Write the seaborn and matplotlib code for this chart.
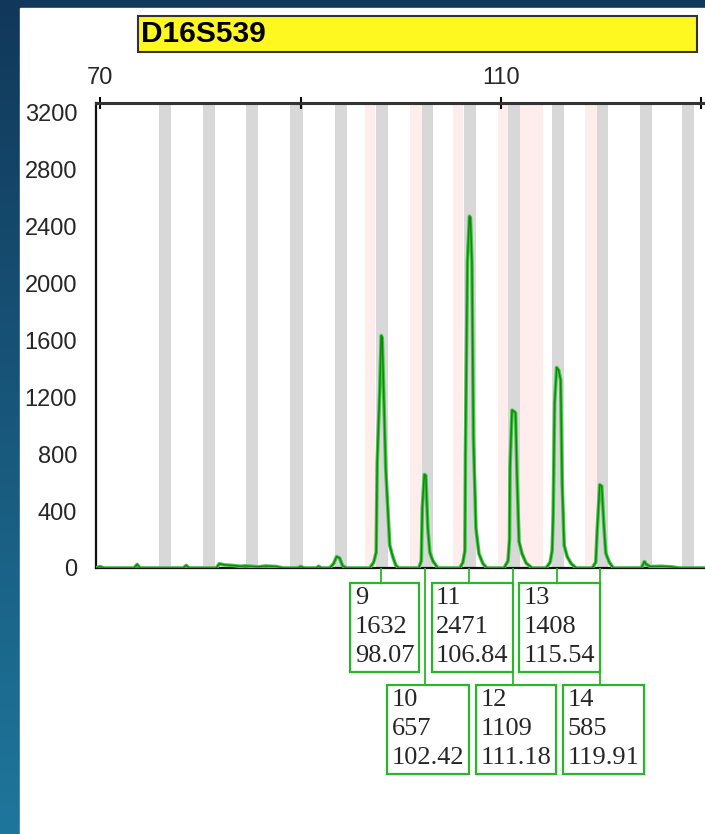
import numpy as np
import pandas as pd
import matplotlib
matplotlib.use("Agg")
import matplotlib.pyplot as plt
from matplotlib.patches import Rectangle
from matplotlib.colors import LinearSegmentedColormap
import seaborn as sns

marker_name = "D16S539"

# called alleles
allele_names = ["9", "10", "11", "12", "13", "14"]
allele_heights = [1632, 657, 2471, 1109, 1408, 585]
allele_sizes = [98.07, 102.42, 106.84, 111.18, 115.54, 119.91]

# ladder bins (grey) and virtual bins (pink), in bp
bin_centres = [76.5, 80.85, 85.2, 89.6, 94.0, 98.1, 102.6, 106.9, 111.3, 115.7, 120.1, 124.5, 128.7]
pink_start = [96.4, 100.9, 105.2, 109.7, 111.9, 118.4]
pink_end = [97.4, 102.1, 106.2, 110.7, 114.2, 119.6]

# electropherogram trace
trace_bp = [69.6, 70.0, 70.4, 73.4, 73.7, 74.0, 78.3, 78.6, 78.9, 81.6, 81.9, 82.4, 83.2, 84.0,
            84.5, 85.8, 86.5, 87.6, 88.3, 89.7, 90.0, 90.4, 91.6, 91.8, 92.1, 92.9, 93.3, 93.6,
            93.9, 94.2, 94.6,
            96.9, 97.3, 97.55, 97.65, 97.9, 98.05, 98.15, 98.3, 98.5, 98.7, 98.9, 99.2, 99.5, 99.8,
            101.8, 102.05, 102.15, 102.35, 102.5, 102.7, 102.9, 103.2, 103.7,
            105.9, 106.2, 106.4, 106.45, 106.65, 106.85, 106.95, 107.1, 107.25, 107.5, 107.8, 108.2, 108.6,
            110.3, 110.7, 110.85, 110.9, 111.1, 111.3, 111.45, 111.6, 111.8, 112.1, 112.5, 113.1,
            114.5, 114.9, 115.1, 115.2, 115.35, 115.55, 115.75, 115.95, 116.1, 116.3, 116.6, 117.0, 117.5,
            119.1, 119.45, 119.6, 119.85, 120.05, 120.25, 120.45, 120.8, 121.2,
            124.0, 124.3, 124.5, 124.9, 126.0, 127.0, 127.8, 130.35]
trace_rfu = [0, 10, 0, 0, 25, 0, 0, 18, 0, 0, 30, 22, 18, 12,
             15, 8, 14, 10, 0, 0, 10, 0, 0, 12, 0, 0, 30, 80,
             70, 15, 0,
             0, 40, 110, 745, 1240, 1632, 1620, 1230, 700, 430, 160, 80, 20, 0,
             0, 50, 420, 657, 650, 280, 110, 50, 0,
             0, 40, 120, 795, 2150, 2471, 2460, 2150, 915, 280, 100, 30, 0,
             0, 50, 200, 710, 1109, 1100, 1090, 640, 185, 100, 35, 0,
             0, 40, 120, 360, 1160, 1408, 1390, 1320, 600, 160, 80, 30, 0,
             0, 40, 270, 585, 575, 315, 105, 40, 0,
             0, 45, 25, 10, 12, 8, 0, 0]

y_ticks = [0, 400, 800, 1200, 1600, 2000, 2400, 2800, 3200]
x_ticks = [70, 90, 110, 130]
x_tick_labels = ["70", "", "110", ""]

sns.set_style("white")
plt.rcParams["font.family"] = ["Liberation Sans", "DejaVu Sans"]

W, H = 705, 834
fig = plt.figure(figsize=(W / 100, H / 100), dpi=100)

# blue background and white panel
bg = fig.add_axes([0, 0, 1, 1])
grad = np.linspace(0, 1, 256).reshape(-1, 1)
cmap = LinearSegmentedColormap.from_list("bg", ["#11385a", "#1f769c"])
bg.imshow(grad, aspect="auto", cmap=cmap, extent=[0, 1, 0, 1])
bg.add_patch(Rectangle((20 / W, 0), 1 - 20 / W, (H - 8) / H, color="white", transform=bg.transAxes))
bg.add_patch(Rectangle((138 / W, (H - 52) / H), (697 - 138) / W, 36 / H, fc="#fff820", ec="#333333",
                       lw=1.5, transform=bg.transAxes))
bg.text(141 / W, (H - 34) / H, marker_name, transform=bg.transAxes, ha="left", va="center",
        fontsize=21.5, fontweight="bold", color="black")
bg.set_xlim(0, 1)
bg.set_ylim(0, 1)
bg.axis("off")

# main electropherogram axes
left, right, top, bottom = 96, 705, 102.5, 568
ax = fig.add_axes([left / W, (H - bottom) / H, (right - left) / W, (bottom - top) / H])
ax.set_facecolor("white")
xlim = (69.6, 130.35)
ax.set_xlim(*xlim)
ax.set_ylim(0, 3270)

for c in bin_centres:
    ax.axvspan(c - 0.6, c + 0.6, color="#d8d8d8", lw=0, zorder=0)
for s, e in zip(pink_start, pink_end):
    ax.axvspan(s, e, color="#ffecec", lw=0, zorder=0)

trace = pd.DataFrame({"bp": trace_bp, "rfu": trace_rfu})
sns.lineplot(data=trace, x="bp", y="rfu", ax=ax, estimator=None, sort=False,
             color="#4cc34c", lw=2.6, zorder=3)
sns.lineplot(data=trace, x="bp", y="rfu", ax=ax, estimator=None, sort=False,
             color="#0a8c0a", lw=1.1, zorder=4)

ax.set_xlabel("")
ax.set_ylabel("")
ax.xaxis.tick_top()
ax.set_xticks(x_ticks)
ax.set_xticklabels(x_tick_labels)
ax.set_yticks(y_ticks)
ax.set_yticks([v + 200 for v in y_ticks[:-1]], minor=True)
ax.tick_params(axis="y", which="both", direction="inout", length=9, width=1.5, color="black",
               labelsize=17, pad=9)
ax.tick_params(axis="x", which="both", direction="inout", length=9, width=1.5, color="black",
               labelsize=17, pad=5, top=True, bottom=False)
for side in ["top", "bottom", "left"]:
    ax.spines[side].set_visible(True)
    ax.spines[side].set_color("#111111")
    ax.spines[side].set_linewidth(1.6)
ax.spines["top"].set_color("#333333")
ax.spines["top"].set_linewidth(2.2)
ax.spines["right"].set_visible(False)

# allele call boxes below the trace
lab = fig.add_axes([left / W, (H - 790) / H, (right - left) / W, (790 - bottom) / H])
lab.set_xlim(*xlim)
lab.set_ylim(790, bottom)
lab.axis("off")
lab.patch.set_alpha(0)

green = "#2ab52a"
row_tops = [583, 685]
for i, (name, hgt, size) in enumerate(zip(allele_names, allele_heights, allele_sizes)):
    row = i % 2
    box_top = row_tops[row]
    lab.plot([size, size], [bottom, box_top], color=green, lw=1.3, zorder=1 if row else 2)
    lab.text(size + 0.3, box_top + 4, f"{name}\n{hgt}\n{size:.2f}", ha="center", va="top",
             multialignment="left", fontsize=19, family="Liberation Serif", linespacing=1.42,
             zorder=3,
             bbox=dict(boxstyle="square,pad=0.17", fc="white", ec=green, lw=1.6))

fig.savefig("out.png", dpi=100)
